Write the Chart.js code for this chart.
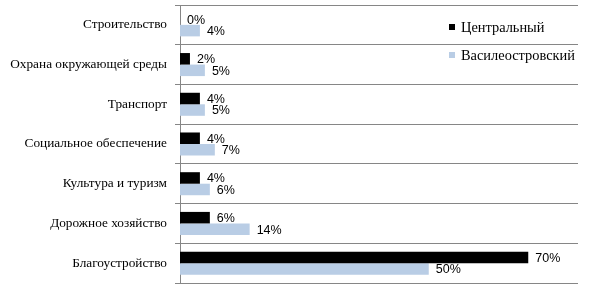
<!DOCTYPE html>
<html>
<head>
<meta charset="utf-8">
<script src="https://cdn.jsdelivr.net/npm/chart.js@4"></script>
<style>
  body { margin: 0; background: #fff; }
  #wrap { width: 592px; height: 291px; position: relative; }
</style>
</head>
<body>
<div id="wrap"><canvas id="chart"></canvas></div>
<script>
const categories = ["Строительство", "Охрана окружающей среды", "Транспорт", "Социальное обеспечение", "Культура и туризм", "Дорожное хозяйство", "Благоустройство"];
const centralValues = [0, 2, 4, 4, 4, 6, 70];
const vasileostrovskyValues = [4, 5, 5, 7, 6, 14, 50];
const seriesNames = ["Центральный", "Василеостровский"];
const seriesColors = ["#000000", "#B9CDE5"];

const gridColor = "#868686";
const serifFont = "'Liberation Serif', 'Times New Roman', serif";

// value labels right of each bar
const barLabels = {
  id: 'barLabels',
  afterDatasetsDraw(chart) {
    const ctx = chart.ctx;
    ctx.save();
    ctx.font = "12.5px 'Liberation Sans', Arial, sans-serif";
    ctx.fillStyle = '#000';
    ctx.textAlign = 'left';
    ctx.textBaseline = 'middle';
    chart.data.datasets.forEach((ds, i) => {
      const meta = chart.getDatasetMeta(i);
      meta.data.forEach((bar, j) => {
        ctx.fillText(ds.data[j] + '%', bar.x + 7, bar.y + 1);
      });
    });
    ctx.restore();
  }
};

// legend drawn inside the plot, upper right
const cornerLegend = {
  id: 'cornerLegend',
  afterDraw(chart) {
    const ctx = chart.ctx;
    ctx.save();
    ctx.font = "14.4px " + serifFont;
    ctx.textBaseline = 'middle';
    seriesNames.forEach((name, i) => {
      const y = 27 + i * 28;
      ctx.fillStyle = seriesColors[i];
      ctx.fillRect(449, y - 3, 6, 6);
      ctx.fillStyle = '#000';
      ctx.fillText(name, 461, y + 1);
    });
    ctx.restore();
  }
};

new Chart(document.getElementById('chart'), {
  type: 'bar',
  data: {
    labels: categories,
    datasets: [{
      label: seriesNames[0],
      data: centralValues,
      backgroundColor: seriesColors[0],
      categoryPercentage: 0.58,
      barPercentage: 1.0
    }, {
      label: seriesNames[1],
      data: vasileostrovskyValues,
      backgroundColor: seriesColors[1],
      categoryPercentage: 0.58,
      barPercentage: 1.0
    }]
  },
  options: {
    indexAxis: 'y',
    responsive: true,
    maintainAspectRatio: false,
    animation: false,
    layout: { padding: { top: 5, right: 14, bottom: 8, left: 0 } },
    scales: {
      x: {
        display: false,
        min: 0,
        max: 80
      },
      y: {
        afterFit: scale => {
          scale.width = 180;
          scale.paddingTop = 0;
          scale.paddingBottom = 0;
        },
        grid: {
          color: gridColor,
          lineWidth: 1,
          tickLength: 5,
          offset: true
        },
        border: { display: true, color: gridColor, width: 1 },
        ticks: {
          color: '#000',
          padding: 8,
          font: { family: serifFont, size: 13.3 }
        }
      }
    },
    plugins: {
      legend: { display: false },
      tooltip: { enabled: false }
    }
  },
  plugins: [barLabels, cornerLegend]
});
</script>
</body>
</html>
